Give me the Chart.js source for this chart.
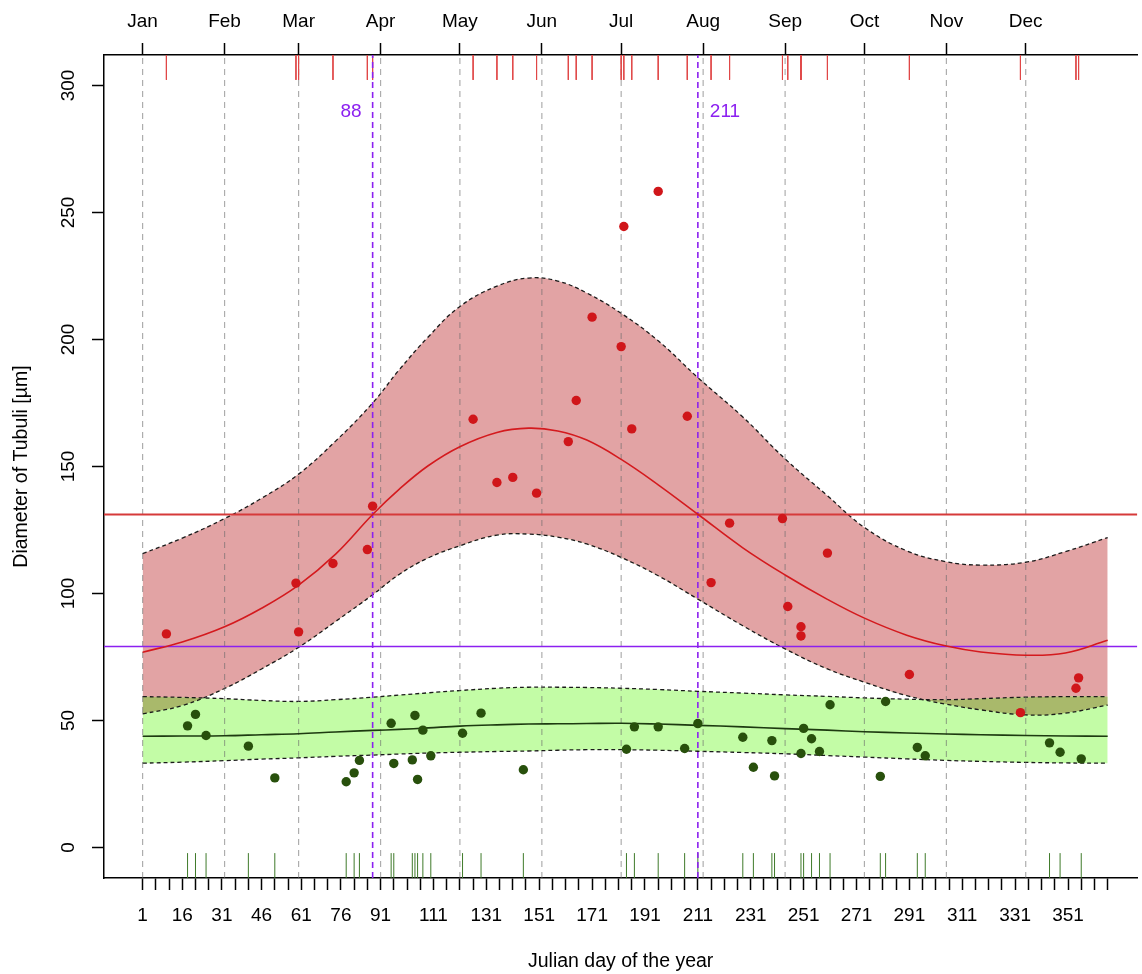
<!DOCTYPE html>
<html>
<head>
<meta charset="utf-8">
<script src="https://cdn.jsdelivr.net/npm/chart.js@4"></script>
<style>
  html, body { margin: 0; padding: 0; background: #fff; overflow: hidden; }
  #wrap { width: 1142px; height: 974px; position: relative; }
</style>
</head>
<body>
<div id="wrap"><canvas id="myChart"></canvas></div>
<script>
// dias de muestreo de las curvas ajustadas
const curveDays = [1, 16, 32, 46, 60, 74, 88, 98, 109, 121, 135, 147, 158, 169, 182, 196, 211, 228, 244, 260, 274, 290, 305, 318, 335, 350, 366]
const redFit = [76.9, 80.9, 86.9, 94.2, 103.3, 115.5, 131.1, 141.0, 150.3, 157.8, 163.4, 165.1, 164.0, 160.4, 152.8, 142.8, 131.2, 118.0, 107.3, 97.7, 90.3, 83.6, 79.3, 77.0, 75.7, 76.6, 81.6]
const redUpper = [115.7, 121.8, 129.5, 137.5, 147.0, 160.0, 175.0, 188.0, 201.0, 213.0, 221.0, 224.2, 223.0, 218.3, 210.3, 199.5, 185.0, 169.5, 153.0, 138.5, 126.0, 116.8, 112.5, 111.2, 112.3, 116.5, 122.0]
const redLower = [52.6, 55.9, 62.6, 70.3, 78.8, 89.0, 99.5, 107.5, 114.0, 118.8, 123.0, 123.4, 122.2, 119.5, 114.2, 107.0, 97.8, 87.3, 78.2, 70.3, 65.1, 59.8, 56.4, 54.2, 52.2, 52.9, 56.1]
const greenFit = [43.8, 43.9, 44.0, 44.4, 44.8, 45.5, 46.1, 46.5, 47.1, 47.8, 48.3, 48.6, 48.7, 48.8, 48.9, 48.6, 48.1, 47.5, 46.8, 46.2, 45.6, 45.1, 44.7, 44.4, 44.1, 43.9, 43.8]
const greenUpper = [59.4, 59.1, 58.6, 57.9, 57.5, 58.2, 59.2, 60.0, 60.9, 61.8, 62.7, 63.1, 63.1, 63.0, 62.7, 62.2, 61.5, 60.8, 60.1, 59.5, 58.9, 58.4, 58.2, 58.6, 59.2, 59.4, 59.4]
const greenLower = [33.2, 33.6, 34.2, 34.8, 35.3, 35.9, 36.4, 36.8, 37.2, 37.5, 37.8, 38.0, 38.3, 38.5, 38.5, 38.3, 37.9, 37.4, 36.9, 36.2, 35.6, 34.9, 34.3, 33.9, 33.5, 33.3, 33.2]

// observaciones
const redDays = [10, 59, 60, 73, 86, 88, 126, 135, 141, 150, 162, 165, 171, 182, 183, 186, 196, 207, 216, 223, 243, 245, 250, 250, 260, 291, 333, 354, 355]
const redValues = [84.1, 104.1, 84.9, 111.8, 117.3, 134.4, 168.6, 143.7, 145.7, 139.5, 159.8, 176.0, 208.8, 197.2, 244.5, 164.8, 258.3, 169.8, 104.3, 127.7, 129.5, 94.9, 86.9, 83.3, 115.9, 68.1, 53.1, 62.7, 66.8]
const greenDays = [18, 21, 25, 41, 51, 78, 81, 83, 95, 96, 103, 104, 105, 107, 110, 122, 129, 145, 184, 187, 196, 206, 211, 228, 232, 239, 240, 250, 251, 254, 257, 261, 280, 282, 294, 297, 344, 348, 356]
const greenValues = [47.9, 52.4, 44.1, 39.9, 27.4, 25.9, 29.4, 34.3, 48.9, 33.1, 34.5, 52.0, 26.8, 46.2, 36.1, 45.0, 52.9, 30.6, 38.7, 47.5, 47.5, 39.0, 48.8, 43.4, 31.6, 42.1, 28.2, 37.0, 46.9, 42.8, 37.8, 56.2, 28.0, 57.5, 39.4, 36.1, 41.2, 37.5, 34.9]

// lineas de referencia
const redThreshold = 131.1
const purpleLevel = 79.1
const crossDays = [88, 211]
const crossLabels = ['88', '211']
const crossLabelValue = 289.8

// ejes
const monthStarts = [1, 32, 60, 91, 121, 152, 182, 213, 244, 274, 305, 335]
const monthNames = ['Jan', 'Feb', 'Mar', 'Apr', 'May', 'Jun', 'Jul', 'Aug', 'Sep', 'Oct', 'Nov', 'Dec']
const dayTickLabels = [1, 16, 31, 46, 61, 76, 91, 111, 131, 151, 171, 191, 211, 231, 251, 271, 291, 311, 331, 351]
const yTicks = [0, 50, 100, 150, 200, 250, 300]
const dayTicks = []
for (let d = 1; d <= 366; d += 5) dayTicks.push(d)

const xMin = -13.6, xMax = 377.2, yMin = -12, yMax = 312
const rugLen = 9.8

const pts = (xs, ys) => xs.map((x, i) => ({ x, y: ys[i] }))
const vSegments = (xs, y0, y1) => {
  const out = []
  xs.forEach(x => { out.push({ x, y: y0 }, { x, y: y1 }, { x, y: null }) })
  return out
}

const FONT = "'Liberation Sans', Arial, Helvetica, sans-serif"
Chart.defaults.font.family = FONT
Chart.defaults.color = '#000'

const PINK = '#e2a3a4'
const LIGHTGREEN = '#c3fca6'
const OLIVE = '#a9b96b'
const PURPLE = '#8c20f0'

const curveLine = (data, extra) => Object.assign({
  type: 'line', data, showLine: true, pointRadius: 0, pointHoverRadius: 0,
  tension: 0.4, fill: false
}, extra)

const segLine = (data, extra) => Object.assign({
  type: 'line', data, showLine: true, pointRadius: 0, pointHoverRadius: 0,
  spanGaps: false, fill: false, tension: 0
}, extra)

const datasets = [
  { type: 'scatter', data: pts(redDays, redValues), backgroundColor: '#d0161a', borderWidth: 0, pointRadius: 4.7, order: 0 },
  { type: 'scatter', data: pts(greenDays, greenValues), backgroundColor: '#28500c', borderWidth: 0, pointRadius: 4.7, order: 0 },
  curveLine(pts(curveDays, redFit), { borderColor: '#d41a1e', borderWidth: 1.6, order: 1 }),
  curveLine(pts(curveDays, greenFit), { borderColor: '#1d3a10', borderWidth: 1.6, order: 1 }),
  segLine([{ x: xMin, y: redThreshold }, { x: xMax, y: redThreshold }], { borderColor: '#d63a3a', borderWidth: 1.9, order: 2 }),
  segLine([{ x: xMin, y: purpleLevel }, { x: xMax, y: purpleLevel }], { borderColor: PURPLE, borderWidth: 1.5, order: 2 }),
  segLine(vSegments(crossDays, yMin, yMax), { borderColor: PURPLE, borderWidth: 1.6, borderDash: [6, 4], order: 2 }),
  segLine(vSegments(redDays, yMax, yMax - rugLen), { borderColor: '#e04848', borderWidth: 1, order: 2 }),
  segLine(vSegments(greenDays, yMin, yMin + rugLen), { borderColor: '#3f7a2a', borderWidth: 1, order: 2 }),
  segLine(vSegments(monthStarts, yMin, yMax), { borderColor: 'rgba(105,105,105,0.55)', borderWidth: 1.2, borderDash: [6, 5], order: 3 }),
  // bandas
  curveLine(pts(curveDays, redUpper), { borderColor: '#1a1a1a', borderWidth: 1.3, borderDash: [4, 3], fill: { target: 11, above: PINK, below: PINK }, order: 7 }),
  curveLine(pts(curveDays, redLower), { borderColor: '#1a1a1a', borderWidth: 1.3, borderDash: [4, 3], order: 4 }),
  curveLine(pts(curveDays, greenUpper), { borderColor: '#1a1a1a', borderWidth: 1.3, borderDash: [4, 3], fill: { target: 13, above: LIGHTGREEN, below: LIGHTGREEN }, order: 6 }),
  curveLine(pts(curveDays, greenLower), { borderColor: '#1a1a1a', borderWidth: 1.3, borderDash: [4, 3], order: 4 }),
  // solapamiento de las dos bandas
  curveLine(pts(curveDays, greenUpper), { borderColor: 'rgba(0,0,0,0)', borderWidth: 0, fill: { target: 11, above: OLIVE, below: 'rgba(0,0,0,0)' }, order: 5 })
]

const crossLabelPlugin = {
  id: 'crossLabels',
  afterDatasetsDraw (chart) {
    const ctx = chart.ctx
    const xs = chart.scales.x
    const ys = chart.scales.y
    ctx.save()
    ctx.font = '19px ' + FONT
    ctx.fillStyle = PURPLE
    ctx.textBaseline = 'middle'
    crossDays.forEach((d, i) => {
      const px = xs.getPixelForValue(d)
      const py = ys.getPixelForValue(crossLabelValue)
      if (i === 0) {
        ctx.textAlign = 'right'
        ctx.fillText(crossLabels[i], px - 11, py)
      } else {
        ctx.textAlign = 'left'
        ctx.fillText(crossLabels[i], px + 12, py)
      }
    })
    ctx.restore()
  }
}

const axisGrid = { drawOnChartArea: false, drawTicks: true, tickLength: 12, tickColor: '#000', tickWidth: 1.5 }
const axisBorder = { display: true, color: '#000', width: 1.5 }

const ctx = document.getElementById('myChart').getContext('2d')
const myChart = new Chart(ctx, {
  type: 'scatter',
  data: { datasets },
  plugins: [crossLabelPlugin],
  options: {
    responsive: true,
    maintainAspectRatio: false,
    animation: false,
    devicePixelRatio: 1,
    layout: { padding: 0 },
    plugins: {
      legend: { display: false },
      tooltip: { enabled: false },
      filler: { drawTime: 'beforeDatasetsDraw' }
    },
    scales: {
      x: {
        type: 'linear', position: 'bottom', min: xMin, max: xMax,
        afterBuildTicks: (s) => { s.ticks = dayTicks.map(v => ({ value: v })) },
        afterFit: (s) => { s.height = 96 },
        ticks: {
          autoSkip: false, minRotation: 0, maxRotation: 0, padding: 14,
          font: { size: 19 }, color: '#000',
          callback: (v) => dayTickLabels.includes(v) ? String(v) : ''
        },
        grid: axisGrid,
        border: axisBorder,
        title: { display: true, text: 'Julian day of the year', color: '#000', font: { size: 19.5 }, padding: { top: 0, bottom: 1 } }
      },
      xTop: {
        type: 'linear', position: 'top', min: xMin, max: xMax,
        afterBuildTicks: (s) => { s.ticks = monthStarts.map(v => ({ value: v })) },
        afterFit: (s) => { s.height = 55 },
        ticks: {
          autoSkip: false, minRotation: 0, maxRotation: 0, padding: 10,
          font: { size: 19 }, color: '#000',
          callback: (v) => monthNames[monthStarts.indexOf(v)]
        },
        grid: axisGrid,
        border: axisBorder
      },
      y: {
        type: 'linear', position: 'left', min: yMin, max: yMax,
        afterBuildTicks: (s) => { s.ticks = yTicks.map(v => ({ value: v })) },
        afterFit: (s) => { s.width = 104 },
        ticks: {
          minRotation: 90, maxRotation: 90, crossAlign: 'center', padding: 7.5,
          font: { size: 19 }, color: '#000'
        },
        grid: axisGrid,
        border: axisBorder,
        title: { display: true, text: 'Diameter of Tubuli [µm]', color: '#000', font: { size: 19.5 }, padding: { top: 10, bottom: 0 } }
      }
    }
  }
})
</script>
</body>
</html>
